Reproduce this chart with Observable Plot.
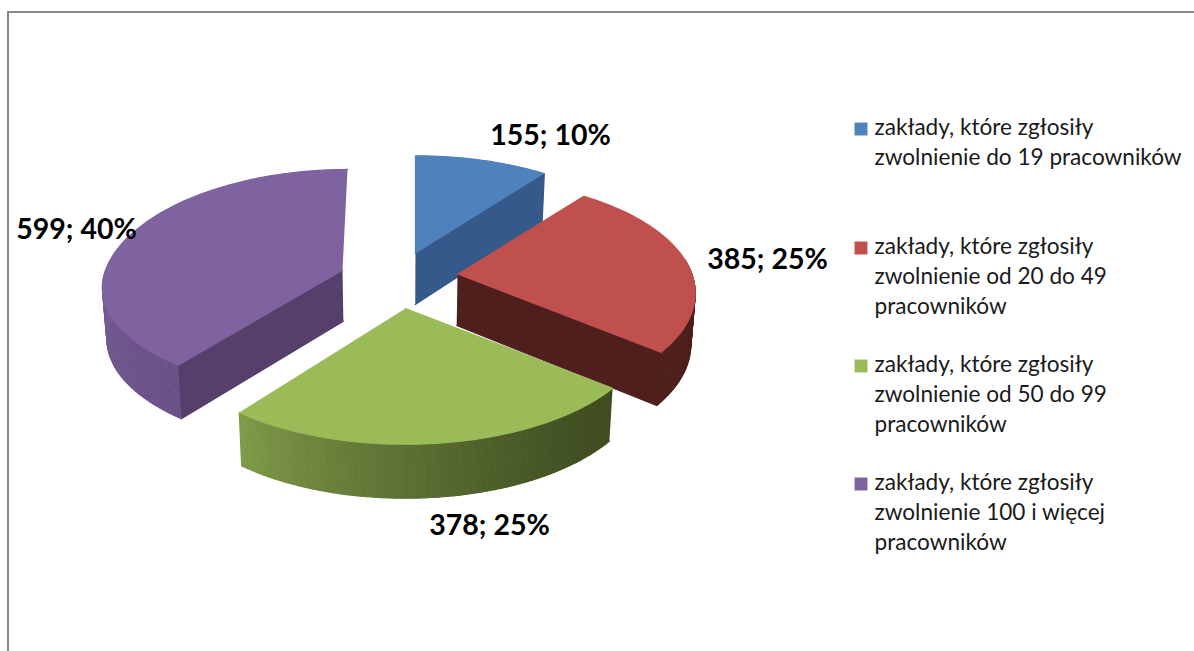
<!DOCTYPE html>
<html lang="pl">
<head>
<meta charset="utf-8">
<script src="https://cdn.jsdelivr.net/npm/d3@7"></script>
<script src="https://cdn.jsdelivr.net/npm/@observablehq/plot@0.6"></script>
<style>html,body{margin:0;padding:0;background:#fff}</style>
</head>
<body>
<div id="chart"></div>
<script>
// Data
const categories = [
  "zakłady, które zgłosiły\nzwolnienie do 19 pracowników",
  "zakłady, które zgłosiły\nzwolnienie od 20 do 49\npracowników",
  "zakłady, które zgłosiły\nzwolnienie od 50 do 99\npracowników",
  "zakłady, które zgłosiły\nzwolnienie 100 i więcej\npracowników"
];
const values = [155, 385, 378, 599];
const percents = [10, 25, 25, 40];
const topColors = ["#4f81bd", "#c0504d", "#9bbb59", "#7f62a0"];
const wallColors = ["#35598a", "#4e1f1c", "#3e4c20", "#563f6b"];
const rimColorsFrom = [null, "#4e1f1c", "#3e4c20", "#6a5288"];
const rimColorsTo = [null, "#4e1f1c", "#7f9a48", "#7d619e"];

// Layout of the perspective pie
const W = 1194, H = 651;
const center = [400, 276.5];
const radiusX = 240, radiusY = 114, lift = 2.2, persp = 0.144, explode = 0.245;
const apexNudge = [[-3, 0], [-1, -1], [-2.5, 0.5], [-3, 0]];
const sliceScale = [1, 0.98, 1, 0.99];
// per-slice correction: x shift towards the back, y shift at the back, y shift at the front
const sliceTilt = [[0, 0, 0], [0, 0, 0], [0, 0, 0], [5, -4, -10]];
const labelAt = [[550, 135], [767, 259], [489, 525], [76, 229]];
const legendY = [143, 277, 395, 513];
const squareY = [128.5, 247.5, 365.5, 483.5];

// Perspective projection of the pie plane, angle measured clockwise from the back
const project = (u, v) => {
  const s = 1 + persp * v;
  return [radiusX * u / s, (lift - radiusY * v) / s];
};
const total = d3.sum(values);
let cum = 0;
const slices = values.map((val, i) => {
  const a0 = cum / total * 2 * Math.PI;
  cum += val;
  const a1 = cum / total * 2 * Math.PI;
  const mid = (a0 + a1) / 2;
  const off = project(explode * Math.sin(mid), explode * Math.cos(mid));
  const apex = [center[0] + off[0] + apexNudge[i][0], center[1] + off[1] + apexNudge[i][1]];
  const rim = a => {
    const p = project(Math.sin(a), Math.cos(a));
    const v = Math.cos(a);
    const t = sliceTilt[i];
    return {
      x: apex[0] + p[0] * sliceScale[i] + t[0] * Math.max(v, 0),
      y: apex[1] + p[1] * sliceScale[i] + (v > 0 ? t[1] * v : t[2] * -v),
      v
    };
  };
  return {i, a0, a1, apex: {x: apex[0], y: apex[1], v: 0}, rim};
});
const drop = p => ({
  x: p.x + (center[0] - p.x) * 0.015,
  y: p.y + 51 - 3 * p.v
});

const polys = [];
let nid = 0;
const addPoly = (pts, c) => {
  const id = nid++;
  pts.forEach(p => polys.push({x: p.x, y: p.y, id, c}));
};
const arcAngles = (a, b, n) => d3.range(n + 1).map(k => a + (b - a) * k / n);

slices.forEach(s => {
  const {i, a0, a1, apex, rim} = s;
  // radial wall facing the viewer
  if (i === 0 || i === 1) {
    const e = rim(a1);
    addPoly([apex, e, drop(e), drop(apex)], wallColors[i]);
  }
  if (i === 3) {
    const e = rim(a0);
    addPoly([apex, e, drop(e), drop(apex)], wallColors[i]);
  }
  // rounded outer wall, shaded in thin strips
  if (i > 0) {
    const from = i === 1 ? Math.PI * 0.45 : a0;
    const to = i === 3 ? Math.PI * 1.6 : a1;
    const col = d3.interpolateRgb(rimColorsFrom[i], rimColorsTo[i]);
    const as = arcAngles(from, to, 60);
    d3.pairs(as).forEach(([p, q], k) => {
      const A = rim(p), B = rim(q);
      addPoly([A, B, drop(B), drop(A)], col(Math.pow(k / 59, 1.4)));
    });
  }
  // top face
  addPoly([apex, ...arcAngles(a0, a1, 80).map(rim)], topColors[i]);
});

const labels = values.map((v, i) => ({
  text: `${v}; ${percents[i]}%`, x: labelAt[i][0], y: labelAt[i][1]
}));
const legend = categories.map((t, i) => ({
  text: t, y: legendY[i], sy: squareY[i], c: topColors[i]
}));

const chart = Plot.plot({
  width: W, height: H,
  margin: 0,
  x: {domain: [0, W], range: [0, W], axis: null},
  y: {domain: [0, H], range: [0, H], axis: null},
  style: {fontFamily: "Lato, sans-serif", background: "#fff"},
  marks: [
    Plot.ruleY([11.5], {x1: 7, x2: W, stroke: "#888", strokeWidth: 2}),
    Plot.ruleX([7.5], {y1: 11, y2: H, stroke: "#888", strokeWidth: 2}),
    Plot.line(polys, {x: "x", y: "y", z: "id", fill: "c", stroke: "c", strokeWidth: 1.2, curve: "linear"}),
    Plot.text(labels, {x: "x", y: "y", text: "text", fontSize: 28.5, fontWeight: 700, fill: "#000"}),
    Plot.dot(legend, {x: () => 860.5, y: "sy", symbol: "square", r: 7.3, fill: "c", stroke: "none"}),
    Plot.text(legend, {x: () => 874, y: "y", dy: -3, text: "text", textAnchor: "start", fontSize: 22.6, lineHeight: 1.31, fill: "#1a1a1a"})
  ]
});
document.getElementById("chart").appendChild(chart);
</script>
</body>
</html>
